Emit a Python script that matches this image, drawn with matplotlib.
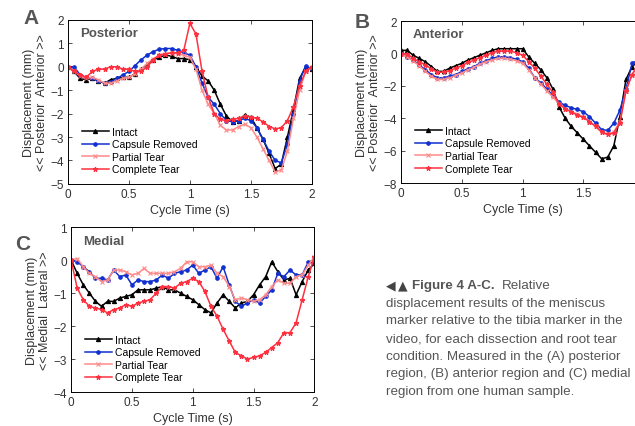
import numpy as np
import matplotlib
matplotlib.use('Agg')
import matplotlib.pyplot as plt

plt.rcParams['font.family'] = ['Liberation Sans', 'DejaVu Sans']

# common time base (s)
t = [i * 0.05 for i in range(41)]

# Panel A - posterior
a_intact = [0, -0.2, -0.5, -0.55, -0.5, -0.6, -0.7, -0.55, -0.5, -0.45, -0.45, -0.3, -0.1, 0.1, 0.3, 0.4,
            0.5, 0.45, 0.35, 0.35, 0.3, 0.0, -0.4, -0.6, -1.0, -1.6, -2.1, -2.35, -2.3, -2.05, -2.15, -2.6,
            -3.1, -3.7, -4.35, -4.15, -3.0, -1.8, -0.5, 0.0, -0.1]
a_capsule = [0, 0.0, -0.35, -0.45, -0.5, -0.6, -0.7, -0.65, -0.5, -0.35, -0.2, 0.05, 0.3, 0.5, 0.65, 0.75,
             0.78, 0.78, 0.7, 0.6, 0.5, 0.0, -0.7, -1.3, -1.6, -2.0, -2.3, -2.35, -2.3, -2.2, -2.3, -2.6,
             -3.1, -3.6, -4.0, -4.1, -3.3, -2.0, -0.6, 0.05, -0.1]
a_partial = [0, -0.2, -0.4, -0.5, -0.45, -0.55, -0.7, -0.7, -0.6, -0.5, -0.45, -0.3, -0.1, 0.15, 0.35, 0.5,
             0.55, 0.6, 0.55, 0.5, 0.4, -0.1, -1.0, -1.6, -2.0, -2.5, -2.7, -2.7, -2.55, -2.45, -2.6, -3.0,
             -3.5, -4.0, -4.5, -4.4, -3.6, -2.2, -1.0, -0.2, 0.0]
a_complete = [0, -0.2, -0.35, -0.45, -0.2, -0.1, -0.1, 0.0, 0.0, -0.1, -0.1, -0.2, -0.2, 0.0, 0.3, 0.5,
              0.55, 0.6, 0.6, 0.7, 1.85, 1.4, -0.2, -1.3, -2.0, -2.25, -2.3, -2.25, -2.2, -2.1, -2.15, -2.2,
              -2.35, -2.55, -2.65, -2.6, -2.3, -1.7, -0.8, -0.2, 0.0]

# Panel B - anterior
b_intact = [0.2, 0.2, -0.1, -0.3, -0.5, -0.8, -1.1, -1.1, -0.9, -0.75, -0.6, -0.4, -0.25, -0.1, 0.05, 0.2,
            0.3, 0.3, 0.3, 0.3, 0.3, -0.2, -0.6, -1.0, -1.5, -2.2, -3.3, -4.0, -4.5, -4.9, -5.3, -5.7,
            -6.1, -6.5, -6.4, -5.7, -3.9, -1.6, -0.8, -0.5, -0.3]
b_capsule = [0, -0.2, -0.4, -0.7, -1.0, -1.3, -1.5, -1.5, -1.4, -1.3, -1.1, -0.95, -0.8, -0.6, -0.45, -0.3,
             -0.2, -0.2, -0.25, -0.35, -0.5, -0.9, -1.5, -1.8, -2.2, -2.6, -3.0, -3.2, -3.35, -3.45, -3.6, -3.9,
             -4.3, -4.7, -4.75, -4.3, -3.5, -2.2, -0.6, -0.4, -0.3]
b_partial = [0, -0.2, -0.45, -0.75, -1.1, -1.4, -1.6, -1.6, -1.5, -1.35, -1.2, -1.0, -0.85, -0.65, -0.5, -0.4,
             -0.3, -0.3, -0.35, -0.45, -0.6, -1.0, -1.5, -1.9, -2.3, -2.7, -3.1, -3.4, -3.6, -3.75, -3.9, -4.2,
             -4.5, -4.85, -5.0, -4.85, -4.2, -2.3, -1.3, -0.7, -0.5]
b_complete = [0, 0.0, -0.3, -0.5, -0.7, -0.95, -1.15, -1.15, -1.05, -0.9, -0.75, -0.55, -0.4, -0.25, -0.1, 0.05,
              0.15, 0.15, 0.15, 0.05, -0.1, -0.5, -0.9, -1.4, -1.9, -2.4, -3.1, -3.4, -3.6, -3.8, -3.95, -4.2,
              -4.5, -4.85, -5.0, -4.9, -4.3, -2.3, -1.3, -0.7, -0.5]

# Panel C - medial
c_intact = [0, -0.4, -0.75, -1.0, -1.25, -1.4, -1.25, -1.25, -1.15, -1.1, -1.05, -0.9, -0.9, -0.9, -0.85, -0.8,
            -0.9, -0.9, -1.0, -1.1, -1.2, -1.35, -1.5, -1.6, -1.3, -1.05, -1.25, -1.45, -1.3, -1.25, -1.05, -0.75,
            -0.5, -0.05, -0.35, -0.6, -0.55, -1.05, -0.65, -0.3, -0.1]
c_capsule = [0, -0.05, -0.2, -0.35, -0.55, -0.55, -0.6, -0.3, -0.5, -0.45, -0.75, -0.6, -0.65, -0.65, -0.6, -0.45,
             -0.55, -0.4, -0.35, -0.3, -0.15, -0.4, -0.3, -0.2, -0.55, -0.2, -0.75, -1.25, -1.4, -1.3, -1.2, -1.3,
             -1.1, -0.9, -0.4, -0.5, -0.3, -0.45, -0.45, -0.05, -0.1]
c_partial = [0, 0.05, -0.2, -0.4, -0.5, -0.65, -0.6, -0.3, -0.3, -0.35, -0.45, -0.4, -0.25, -0.4, -0.4, -0.4,
             -0.4, -0.35, -0.25, -0.05, -0.05, -0.2, -0.2, -0.15, -0.4, -0.5, -0.8, -1.2, -1.15, -1.2, -1.25, -1.2,
             -1.05, -0.8, -0.6, -0.7, -0.7, -0.5, -0.45, -0.15, 0.1]
c_complete = [0, -0.85, -1.2, -1.4, -1.45, -1.5, -1.6, -1.5, -1.45, -1.35, -1.4, -1.3, -1.25, -1.2, -1.0, -0.8,
              -0.8, -0.85, -0.7, -0.65, -0.55, -0.65, -0.95, -1.4, -1.7, -2.1, -2.45, -2.8, -2.9, -3.0, -2.95, -2.9,
              -2.8, -2.65, -2.5, -2.2, -2.2, -1.9, -1.2, -0.5, 0.1]

labels = ['Intact', 'Capsule Removed', 'Partial Tear', 'Complete Tear']
colors = ['#000000', '#1030d0', '#ff8a8a', '#ff3040']
markers = ['^', 'o', 'x', '*']
msizes = [3, 2.5, 3, 3.5]
gray = '#555555'

fig = plt.figure(figsize=(6.35, 4.27), dpi=100)


def panel(rect, series, ylim, yticks, title, ylab2, letter, letter_xy, xtl):
    ax = fig.add_axes(rect)
    for s, lab, c, m, ms in zip(series, labels, colors, markers, msizes):
        ax.plot(t, s, color=c, marker=m, markersize=ms, linewidth=1.1, label=lab,
                markeredgewidth=0.8)
    ax.set_xlim(0, 2)
    ax.set_ylim(*ylim)
    ax.set_yticks(yticks)
    ax.set_xticks([0, 0.5, 1, 1.5, 2])
    ax.set_xticklabels(xtl)
    ax.tick_params(direction='in', top=True, right=True, labelsize=8.5, length=3, width=0.6,
                   colors='#333333', pad=3)
    for sp in ax.spines.values():
        sp.set_linewidth(0.7)
    ax.set_xlabel('Cycle Time (s)', fontsize=9, color='#333333', labelpad=3)
    ax.set_ylabel('Displacement (mm)\n' + ylab2, fontsize=9, color='#333333', labelpad=2,
                  linespacing=1.1)
    ax.text(0.05, 0.955, title, transform=ax.transAxes, fontsize=9.5, fontweight='bold',
            color=gray, va='top', ha='left')
    ax.legend(loc='lower left', bbox_to_anchor=(0.03, 0.02), frameon=False, fontsize=7.5,
              handlelength=2.6, handletextpad=0.3, labelspacing=0.25, borderaxespad=0.2)
    fig.text(letter_xy[0], letter_xy[1], letter, fontsize=15, fontweight='bold', color=gray,
             ha='center', va='center')
    return ax


full = ['0', '0.5', '1', '1.5', '2']
panel([0.107, 0.567, 0.384, 0.384], [a_intact, a_capsule, a_partial, a_complete],
      (-5, 2), [-5, -4, -3, -2, -1, 0, 1, 2], 'Posterior', '<< Posterior  Anterior >>',
      'A', (0.049, 0.957), full)
# panel B runs past the right edge of the figure, as in the source
panel([0.6315, 0.569, 0.383, 0.379], [b_intact, b_capsule, b_partial, b_complete],
      (-8, 2), [-8, -6, -4, -2, 0, 2], 'Anterior', '<< Posterior  Anterior >>',
      'B', (0.571, 0.948), ['0', '0.5', '1', '1.5', ''])
panel([0.112, 0.0796, 0.383, 0.386], [c_intact, c_capsule, c_partial, c_complete],
      (-4, 1), [-4, -3, -2, -1, 0, 1], 'Medial', '<< Medial  Lateral >>',
      'C', (0.035, 0.428), full)

# caption
cap_x = 386 / 635
fs = 9.6
cap_lines = ['displacement results of the meniscus',
             'marker relative to the tibia marker in the',
             'video, for each dissection and root tear',
             'condition. Measured in the (A) posterior',
             'region, (B) anterior region and (C) medial',
             'region from one human sample.']
y0 = 1 - 286 / 427
fig.text(cap_x, y0, '\u25c0', fontsize=9, color='#444444', va='center', ha='left',
         family='DejaVu Sans')
fig.text(398 / 635, y0, '\u25b2', fontsize=9, color='#444444', va='center', ha='left',
         family='DejaVu Sans')
fig.text(412 / 635, y0, 'Figure 4 A-C.', fontsize=fs, color=gray, fontweight='bold',
         va='center', ha='left')
fig.text(502 / 635, y0, 'Relative', fontsize=fs, color=gray, va='center', ha='left')
for i, line in enumerate(cap_lines):
    fig.text(cap_x, y0 - (i + 1) * 17.7 / 427, line, fontsize=fs, color=gray, va='center', ha='left')

fig.savefig('out.png', dpi=100)
